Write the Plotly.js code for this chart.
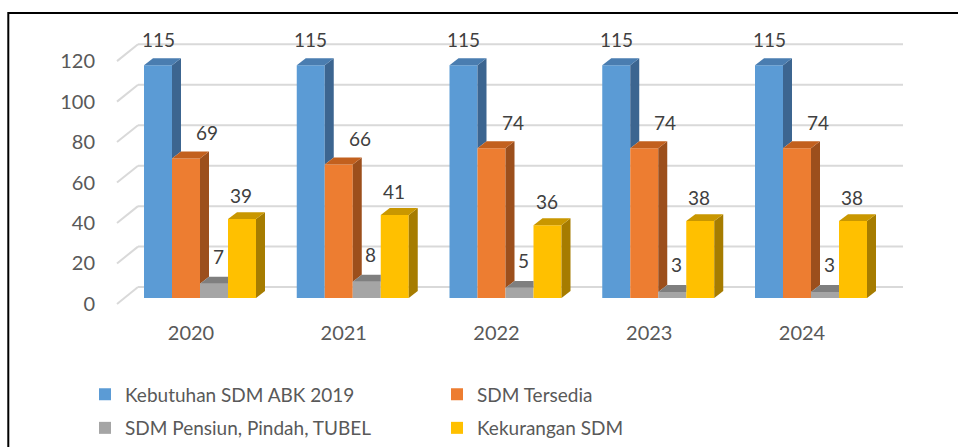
<!DOCTYPE html>
<html><head><meta charset="utf-8">
<script src="https://cdn.plot.ly/plotly-3.0.1.min.js"></script>
<style>html,body{margin:0;padding:0;background:#fff}#chart{width:958px;height:447px}</style>
</head><body><div id="chart"></div>
<script>
// ---- data ----
const years = ['2020', '2021', '2022', '2023', '2024'];
const seriesNames = ['Kebutuhan SDM ABK 2019', 'SDM Tersedia', 'SDM Pensiun, Pindah, TUBEL', 'Kekurangan SDM'];
const kebutuhan = [115, 115, 115, 115, 115];
const tersedia = [69, 66, 74, 74, 74];
const pensiun = [7, 8, 5, 3, 3];
const kekurangan = [39, 41, 36, 38, 38];
const yTicks = [0, 20, 40, 60, 80, 100, 120];

// ---- style ----
const FONT = 'Lato, "Open Sans", sans-serif';
const frontCol = ['#5B9BD5', '#ED7D31', '#A5A5A5', '#FFC000'];
const topCol = ['#4A7DB0', '#C2601E', '#7F7F7F', '#C99700'];
const sideCol = ['#3C6590', '#9C4F1C', '#747474', '#A67C00'];
const labelShift = [[0, 26], [21, 26], [4, 27], [-1, 24]];

const W = 958, H = 447;
const cat0Px = 200, catPx = 152.75, y0Px = 300, unitPx = 2.037;
const plotL = 100, plotR = 915, plotT = 20, plotB = 315;
const dxu = p => p / catPx, dyu = p => p / unitPx;
const barW = dxu(28), groupW = 4 * barW;
const depthX = dxu(9), depthY = dyu(7);
const backX0 = dxu(138 - cat0Px), backX1 = dxu(903 - cat0Px), frontX0 = dxu(117 - cat0Px);
const backDY = dyu(11), frontDY = dyu(6);

const series = [kebutuhan, tersedia, pensiun, kekurangan];
const idx = years.map((_, k) => k);
const offsets = series.map((_, i) => -groupW / 2 + i * barW);

const traces = series.map((vals, i) => ({
  type: 'bar', x: idx, y: vals, name: seriesNames[i],
  width: barW, offset: offsets[i],
  marker: { color: frontCol[i], line: { width: 0 } },
  legend: i < 2 ? 'legend' : 'legend2',
  hovertemplate: '%{y}<extra>' + seriesNames[i] + '</extra>'
}));

const shapes = [];
// frame
shapes.push({ type: 'rect', xref: 'paper', yref: 'paper', x0: 8.3 / W, x1: 1.05, y0: -0.1, y1: 1 - 13 / H,
  line: { color: '#000', width: 2 }, fillcolor: 'rgba(0,0,0,0)', layer: 'below' });
// gridlines (back wall + floor diagonals)
yTicks.forEach(v => {
  shapes.push({ type: 'line', xref: 'x', yref: 'y', x0: backX0, x1: backX1, y0: v + backDY, y1: v + backDY,
    line: { color: '#D9D9D9', width: 2 }, layer: 'below' });
  shapes.push({ type: 'line', xref: 'x', yref: 'y', x0: frontX0, x1: backX0, y0: v - frontDY, y1: v + backDY,
    line: { color: '#D9D9D9', width: 2 }, layer: 'below' });
});
// 3D faces
idx.forEach(k => {
  series.forEach((vals, i) => {
    const v = vals[k];
    const L = k + offsets[i], R = L + barW;
    const next = i < series.length - 1 ? series[i + 1][k] : null;
    if (next === null || next < v) {
      const base = next === null ? 0 : next;
      shapes.push({ type: 'path', xref: 'x', yref: 'y', layer: 'above', fillcolor: sideCol[i], line: { width: 0 },
        path: `M${R},${base} L${R},${v} L${R + depthX},${v + depthY} L${R + depthX},${base + depthY} Z` });
    }
    let topPath;
    if (next !== null && next >= v + depthY) {
      topPath = `M${L},${v} L${R},${v} L${R},${v + depthY} L${L + depthX},${v + depthY} Z`;
    } else {
      topPath = `M${L},${v} L${R},${v} L${R + depthX},${v + depthY} L${L + depthX},${v + depthY} Z`;
    }
    shapes.push({ type: 'path', xref: 'x', yref: 'y', layer: 'above', fillcolor: topCol[i], line: { width: 0 }, path: topPath });
  });
});

// data labels
const annotations = [];
series.forEach((vals, i) => {
  vals.forEach((v, k) => {
    annotations.push({ x: k + offsets[i] + barW / 2, y: v, xref: 'x', yref: 'y', text: String(v), showarrow: false,
      xanchor: 'center', yanchor: 'middle', xshift: labelShift[i][0], yshift: labelShift[i][1],
      font: { family: FONT, size: 19, color: '#404040' } });
  });
});

const legendBase = { orientation: 'h', xanchor: 'left', yanchor: 'middle', x: 85 / W,
  font: { family: FONT, size: 19, color: '#595959' }, entrywidth: 307, entrywidthmode: 'pixels',
  bgcolor: 'rgba(0,0,0,0)', borderwidth: 0, itemclick: false, itemdoubleclick: false };

const layout = {
  width: W, height: H, margin: { l: 0, r: 0, t: 0, b: 0 }, autosize: false,
  paper_bgcolor: '#fff', plot_bgcolor: 'rgba(0,0,0,0)',
  barmode: 'overlay', showlegend: true,
  font: { family: FONT, color: '#595959' },
  xaxis: { domain: [plotL / W, plotR / W], range: [dxu(plotL - cat0Px), dxu(plotR - cat0Px)],
    tickvals: idx.map(k => k + dxu(-9)), ticktext: years, showgrid: false, zeroline: false, showline: false,
    ticks: '', ticklabelstandoff: 6, tickfont: { family: FONT, size: 20, color: '#595959' }, automargin: false, fixedrange: true },
  yaxis: { domain: [1 - plotB / H, 1 - plotT / H], range: [dyu(y0Px - plotB), dyu(y0Px - plotT)],
    tickvals: yTicks.map(v => v - frontDY), ticktext: yTicks.map(String), showgrid: false, zeroline: false,
    showline: false, ticks: '', ticklabelstandoff: 4, tickfont: { family: FONT, size: 20, color: '#595959' }, automargin: false, fixedrange: true },
  legend: Object.assign({}, legendBase, { y: 1 - 397 / H }),
  legend2: Object.assign({}, legendBase, { y: 1 - 431 / H }),
  shapes: shapes,
  annotations: annotations
};

Plotly.newPlot('chart', traces, layout, { displayModeBar: false, staticPlot: true });
</script></body></html>
